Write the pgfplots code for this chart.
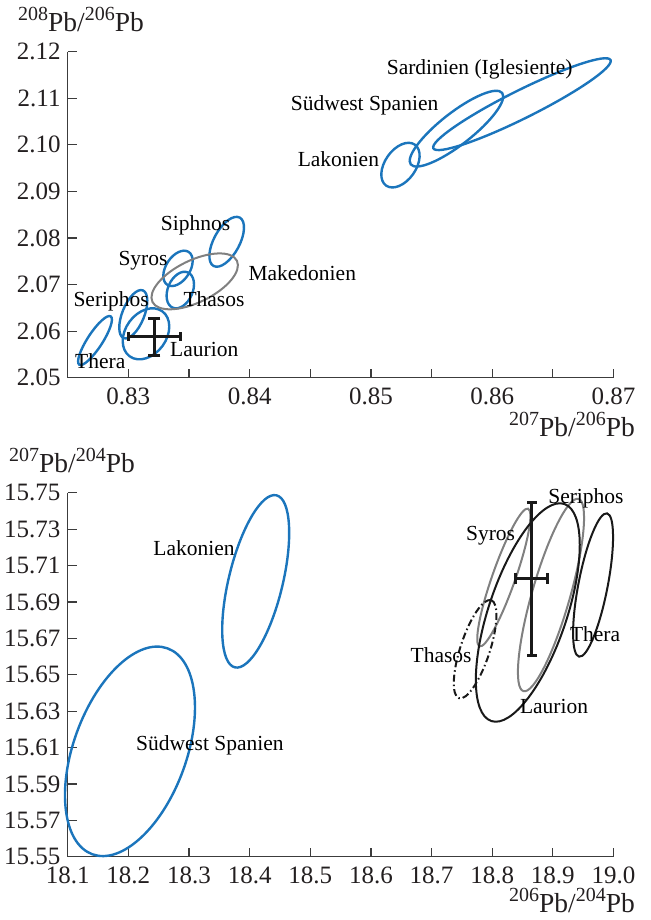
\documentclass[border=0pt]{standalone}
\usepackage{fontspec}
\setmainfont{Liberation Serif}
\usepackage{pgfplots}
\pgfplotsset{compat=1.18}
\definecolor{blueE}{RGB}{27,117,188}
\definecolor{grayE}{RGB}{128,128,128}
\definecolor{blackE}{RGB}{25,25,25}
\definecolor{txt}{RGB}{35,31,32}
\definecolor{axc}{RGB}{60,60,60}
\newcommand{\iso}[1]{\raisebox{0.40em}{\fontsize{20}{20}\selectfont #1}}
\newcommand{\lab}{\fontsize{21.5}{21.5}\selectfont}
\newcommand{\albl}{\fontsize{27.5}{27.5}\selectfont}
\newcommand{\ellip}[6][]{\draw[#1] (axis cs:#2,#3) ellipse [x radius=#4pt, y radius=#5pt, rotate=#6];}
\pgfplotsset{
  base/.style={
    scale only axis,
    axis lines=left,
    axis line style={-, axc, line width=1.2pt},
    every tick/.style={axc, line width=1.2pt},
    tick align=inside,
    major tick length=9pt,
    minor tick length=9pt,
    clip=false,
    tick label style={font=\rmfamily\fontsize{25}{25}\selectfont, text=txt},
    /pgf/number format/assume math mode=true,
    xticklabel style={anchor=north, inner sep=0pt, yshift=-10pt},
    yticklabel style={anchor=east, inner sep=0pt, xshift=-7pt},
    every node/.append style={text=txt},
  },
  bar/.style={blackE, line width=3pt, mark=none},
  cap/.style={blackE, only marks, line width=3pt, mark=#1, mark options={solid, line width=3pt}},
}
\begin{document}
\begin{tikzpicture}
\path[use as bounding box] (0pt,0pt) rectangle (650pt,-920pt);
% ---------------- top panel ----------------
\begin{axis}[base,
  at={(67.7pt,-377.7pt)}, anchor=south west,
  width=545.8pt, height=326pt,
  xmin=0.825, xmax=0.87, ymin=2.05, ymax=2.12,
  xtick={0.83,0.84,...,0.87},
  minor xtick={0.835,0.845,...,0.866},
  ytick={2.05,2.06,...,2.121},
  xticklabel style={/pgf/number format/.cd, fixed, fixed zerofill, precision=2},
  yticklabel style={/pgf/number format/.cd, fixed, fixed zerofill, precision=2},
]
\ellip[blueE, line width=2.4pt]{0.827251}{2.057983}{28.8}{7.5}{57}
\ellip[blueE, line width=2.4pt]{0.830408}{2.063627}{25.7}{11}{68}
\ellip[blueE, line width=2.4pt]{0.831455}{2.059421}{27.8}{20.5}{54}
\ellip[blueE, line width=2.4pt]{0.834093}{2.073476}{19.6}{12}{57}
\ellip[blueE, line width=2.4pt]{0.834283}{2.068820}{19.2}{12.4}{66.6}
\ellip[blueE, line width=2.4pt]{0.838108}{2.079185}{27.5}{12.9}{61.6}
\ellip[grayE, line width=2pt]{0.835470}{2.070687}{47}{21}{26}
\ellip[blueE, line width=2.4pt]{0.852436}{2.095644}{25}{15.5}{55}
\ellip[blueE, line width=2.4pt]{0.857053}{2.103476}{58}{16}{38}
\ellip[blueE, line width=2.4pt]{0.862453}{2.108734}{99}{14}{26.5}
% error cross: centre (0.83214, 2.0588), x err 0.00213, y err 0.00397
\addplot[bar] coordinates {(0.83214,2.05483) (0.83214,2.06277)};
\addplot[bar] coordinates {(0.83001,2.0588) (0.83427,2.0588)};
\addplot[cap=-, mark size=6pt] coordinates {(0.83214,2.05483) (0.83214,2.06277)};
\addplot[cap=|, mark size=4.5pt] coordinates {(0.83001,2.0588) (0.83427,2.0588)};
\node[anchor=base west, font=\lab] at (axis cs:0.851018,2.115172) {Sardinien (Iglesiente)};
\node[anchor=base west, font=\lab] at (axis cs:0.843104,2.107446) {Südwest Spanien};
\node[anchor=base west, font=\lab] at (axis cs:0.843681,2.095279) {Lakonien};
\node[anchor=base west, font=\lab] at (axis cs:0.832387,2.081695) {Siphnos};
\node[anchor=base west, font=\lab] at (axis cs:0.828899,2.074185) {Syros};
\node[anchor=base west, font=\lab] at (axis cs:0.839617,2.070966) {Makedonien};
\node[anchor=base west, font=\lab] at (axis cs:0.825190,2.065386) {Seriphos};
\node[anchor=base west, font=\lab] at (axis cs:0.834258,2.065386) {Thasos};
\node[anchor=base west, font=\lab] at (axis cs:0.833162,2.054657) {Laurion};
\node[anchor=base west, font=\lab] at (axis cs:0.825330,2.052017) {Thera};
\end{axis}
% ---------------- bottom panel ----------------
\begin{axis}[base,
  at={(67.7pt,-856.7pt)}, anchor=south west,
  width=545.8pt, height=364pt,
  xmin=18.1, xmax=19.0, ymin=15.55, ymax=15.75,
  xtick={18.1,18.2,...,19.01},
  ytick={15.55,15.57,...,15.751},
  xticklabel style={/pgf/number format/.cd, fixed, fixed zerofill, precision=1},
  yticklabel style={/pgf/number format/.cd, fixed, fixed zerofill, precision=2},
]
\ellip[blueE, line width=2.4pt]{18.4100}{15.7013}{88.5}{27}{76.4}
\ellip[blueE, line width=2.4pt]{18.2027}{15.6079}{109.6}{56.4}{69.9}
\ellip[grayE, line width=2pt]{18.81914}{15.70341}{73}{11.5}{70.6}
\ellip[grayE, line width=2pt]{18.89694}{15.69379}{100}{19}{74}
\ellip[blackE, line width=2pt]{18.85869}{15.68418}{114.5}{39}{71.4}
\ellip[blackE, line width=2pt]{18.96633}{15.69929}{73}{14.6}{79}
\ellip[blackE, line width=2pt, dash pattern=on 7pt off 3pt on 1.5pt off 3pt]{18.77183}{15.66401}{51.6}{14.7}{71.8}
% error cross: centre (18.8648, 15.7026), x err 0.026, y err 0.042
\addplot[bar] coordinates {(18.8648,15.6606) (18.8648,15.7446)};
\addplot[bar] coordinates {(18.8388,15.7026) (18.8908,15.7026)};
\addplot[cap=-, mark size=5pt] coordinates {(18.8648,15.6606) (18.8648,15.7446)};
\addplot[cap=|, mark size=5.5pt] coordinates {(18.8388,15.7026) (18.8908,15.7026)};
\node[anchor=base west, font=\lab] at (axis cs:18.23565,15.71577) {Lakonien};
\node[anchor=base west, font=\lab] at (axis cs:18.20714,15.60863) {Südwest Spanien};
\node[anchor=base west, font=\lab] at (axis cs:18.75107,15.72363) {Syros};
\node[anchor=base west, font=\lab] at (axis cs:18.88672,15.74418) {Seriphos};
\node[anchor=base west, font=\lab] at (axis cs:18.92248,15.66813) {Thera};
\node[anchor=base west, font=\lab] at (axis cs:18.65975,15.65659) {Thasos};
\node[anchor=base west, font=\lab] at (axis cs:18.84007,15.62879) {Laurion};
\end{axis}
% axis titles
\node[anchor=base west, inner sep=0pt, text=txt, font=\albl] at (18pt,-31.7pt) {\iso{208}Pb/\iso{206}Pb};
\node[anchor=base east, inner sep=0pt, text=txt, font=\albl] at (635pt,-436.7pt) {\iso{207}Pb/\iso{206}Pb};
\node[anchor=base west, inner sep=0pt, text=txt, font=\albl] at (9pt,-472.7pt) {\iso{207}Pb/\iso{204}Pb};
\node[anchor=base east, inner sep=0pt, text=txt, font=\albl] at (635pt,-912.7pt) {\iso{206}Pb/\iso{204}Pb};
\end{tikzpicture}
\end{document}
